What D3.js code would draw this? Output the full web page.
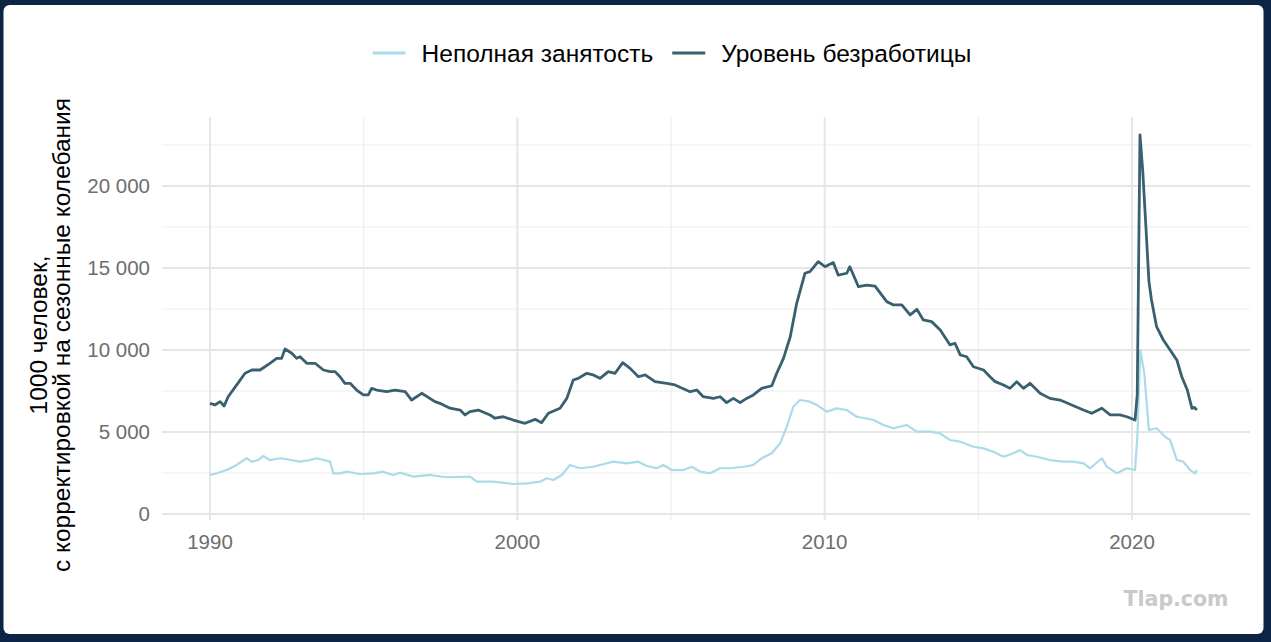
<!DOCTYPE html>
<html>
<head>
<meta charset="utf-8">
<script src="https://cdn.jsdelivr.net/npm/d3@7"></script>
<style>
  html, body { margin: 0; padding: 0; background: #0c2545; }
  svg { display: block; }
</style>
</head>
<body>
<script>
// [decimal year, thousands of persons]
const unemployment = [
  [1990.00, 6750], [1990.16, 6650], [1990.33, 6850], [1990.46, 6590], [1990.59, 7150],
  [1990.87, 7870], [1991.14, 8580], [1991.36, 8780], [1991.63, 8780], [1991.95, 9190],
  [1992.17, 9490], [1992.33, 9490], [1992.44, 10060], [1992.66, 9800], [1992.82, 9490],
  [1992.93, 9590], [1993.15, 9190], [1993.42, 9190], [1993.69, 8780], [1993.91, 8680],
  [1994.07, 8680], [1994.23, 8370], [1994.39, 7970], [1994.56, 7970], [1994.77, 7560],
  [1994.99, 7260], [1995.15, 7260], [1995.26, 7660], [1995.42, 7560], [1995.75, 7460],
  [1996.02, 7560], [1996.35, 7460], [1996.56, 6950], [1996.89, 7360], [1997.32, 6850],
  [1997.48, 6750], [1997.81, 6450], [1998.14, 6340], [1998.30, 6040], [1998.46, 6240],
  [1998.73, 6340], [1999.11, 6040], [1999.27, 5840], [1999.54, 5930], [1999.87, 5730],
  [2000.25, 5530], [2000.58, 5770], [2000.79, 5570], [2001.01, 6140], [2001.39, 6450],
  [2001.61, 7050], [2001.82, 8170], [2001.98, 8270], [2002.26, 8580], [2002.47, 8480],
  [2002.69, 8270], [2002.96, 8680], [2003.18, 8580], [2003.43, 9230], [2003.67, 8880],
  [2003.94, 8370], [2004.16, 8480], [2004.48, 8070], [2004.86, 7970], [2005.13, 7870],
  [2005.62, 7460], [2005.84, 7560], [2006.05, 7150], [2006.38, 7050], [2006.60, 7150],
  [2006.81, 6790], [2007.03, 7050], [2007.25, 6790], [2007.46, 7050], [2007.68, 7260],
  [2007.95, 7660], [2008.28, 7820], [2008.44, 8580], [2008.66, 9490], [2008.88, 10810],
  [2009.09, 12850], [2009.36, 14680], [2009.52, 14780], [2009.79, 15390], [2010.01, 15080],
  [2010.28, 15330], [2010.44, 14570], [2010.72, 14680], [2010.82, 15080], [2011.10, 13860],
  [2011.37, 13960], [2011.64, 13900], [2012.02, 12950], [2012.24, 12750], [2012.51, 12750],
  [2012.78, 12140], [2013.00, 12480], [2013.21, 11830], [2013.48, 11730], [2013.76, 11220],
  [2014.08, 10310], [2014.24, 10410], [2014.41, 9700], [2014.62, 9590], [2014.84, 8980],
  [2015.17, 8780], [2015.38, 8370], [2015.55, 8070], [2015.82, 7870], [2016.03, 7660],
  [2016.25, 8070], [2016.47, 7660], [2016.68, 7970], [2017.01, 7360], [2017.33, 7050],
  [2017.66, 6950], [2018.04, 6650], [2018.42, 6340], [2018.69, 6140], [2019.02, 6450],
  [2019.29, 6040], [2019.61, 6040], [2019.83, 5930], [2020.10, 5730], [2020.17, 7260],
  [2020.26, 23110], [2020.35, 20900], [2020.45, 17600], [2020.55, 14200], [2020.63, 13100],
  [2020.80, 11420], [2021.02, 10610], [2021.24, 10000], [2021.40, 9550], [2021.46, 9390],
  [2021.62, 8370], [2021.80, 7560], [2021.95, 6440], [2022.03, 6500], [2022.11, 6340]
]

const partTime = [
  [1990.00, 2380], [1990.22, 2480], [1990.54, 2680], [1990.87, 2990], [1991.19, 3400],
  [1991.36, 3190], [1991.57, 3290], [1991.73, 3540], [1991.95, 3290], [1992.28, 3400],
  [1992.50, 3340], [1992.93, 3190], [1993.25, 3290], [1993.47, 3400], [1993.91, 3190],
  [1994.01, 2480], [1994.23, 2480], [1994.45, 2580], [1994.88, 2440], [1995.31, 2480],
  [1995.63, 2580], [1995.96, 2380], [1996.18, 2520], [1996.62, 2280], [1997.16, 2380],
  [1997.70, 2240], [1998.46, 2280], [1998.68, 1970], [1999.22, 1970], [1999.87, 1830],
  [2000.31, 1870], [2000.74, 1970], [2000.96, 2180], [2001.17, 2070], [2001.45, 2380],
  [2001.71, 2990], [2002.04, 2790], [2002.47, 2880], [2003.12, 3190], [2003.56, 3090],
  [2003.94, 3190], [2004.21, 2930], [2004.54, 2790], [2004.75, 2990], [2005.02, 2680],
  [2005.40, 2680], [2005.68, 2880], [2005.95, 2580], [2006.27, 2480], [2006.60, 2790],
  [2006.92, 2790], [2007.36, 2880], [2007.68, 2990], [2007.95, 3400], [2008.28, 3700],
  [2008.55, 4310], [2008.77, 5330], [2008.98, 6540], [2009.20, 6950], [2009.52, 6850],
  [2009.74, 6650], [2010.07, 6240], [2010.39, 6440], [2010.72, 6340], [2011.04, 5930],
  [2011.32, 5840], [2011.59, 5730], [2011.91, 5430], [2012.24, 5230], [2012.67, 5430],
  [2013.00, 5020], [2013.43, 5020], [2013.76, 4920], [2014.08, 4510], [2014.41, 4410],
  [2014.84, 4100], [2015.17, 4000], [2015.49, 3800], [2015.82, 3490], [2016.14, 3700],
  [2016.36, 3900], [2016.58, 3600], [2016.90, 3490], [2017.33, 3290], [2017.77, 3190],
  [2018.09, 3190], [2018.42, 3090], [2018.64, 2790], [2019.02, 3400], [2019.18, 2890],
  [2019.51, 2480], [2019.83, 2790], [2020.10, 2680], [2020.18, 4920], [2020.27, 10000],
  [2020.40, 8580], [2020.55, 5120], [2020.80, 5230], [2021.07, 4720], [2021.24, 4510],
  [2021.46, 3290], [2021.67, 3190], [2021.89, 2680], [2022.05, 2480], [2022.11, 2680]
]

const series = [
  {name: 'Неполная занятость', data: partTime, color: '#a9dbe9', width: 2.2},
  {name: 'Уровень безработицы', data: unemployment, color: '#38606e', width: 2.8}
]

const xMajor = [1990, 2000, 2010, 2020]
const xMinor = [1995, 2005, 2015]
const yMajor = [0, 5000, 10000, 15000, 20000]
const yMinor = [2500, 7500, 12500, 17500, 22500]
const yTitle = ['1000 человек,', 'с корректировкой на сезонные колебания']

const width = 1271, height = 642
const font = '"Liberation Sans", Arial, sans-serif'

const svg = d3.select('body').append('svg')
  .attr('width', width)
  .attr('height', height)

// white card on the dark frame
svg.append('rect')
  .attr('x', 3.5).attr('y', 5)
  .attr('width', 1260).attr('height', 629)
  .attr('rx', 6)
  .attr('fill', '#ffffff')

const x = d3.scaleLinear()
  .domain([1990, 2020])
  .range([210, 1132])

const y = d3.scaleLinear()
  .domain([0, 20000])
  .range([514, 186])

const panel = {left: 162, right: 1250, top: 117, bottom: 520}

const fmt = d3.formatLocale({decimal: ',', thousands: '\u00a0', grouping: [3], currency: ['', '']}).format(',d')

const grid = svg.append('g').attr('class', 'grid')

grid.selectAll('.hminor').data(yMinor).join('line')
  .attr('x1', panel.left).attr('x2', panel.right)
  .attr('y1', d => y(d)).attr('y2', d => y(d))
  .attr('stroke', '#eeeeee').attr('stroke-width', 1.2)

grid.selectAll('.vminor').data(xMinor).join('line')
  .attr('x1', d => x(d)).attr('x2', d => x(d))
  .attr('y1', panel.top).attr('y2', panel.bottom)
  .attr('stroke', '#eeeeee').attr('stroke-width', 1.2)

grid.selectAll('.hmajor').data(yMajor).join('line')
  .attr('x1', panel.left).attr('x2', panel.right)
  .attr('y1', d => y(d)).attr('y2', d => y(d))
  .attr('stroke', '#e6e6e6').attr('stroke-width', 2)

grid.selectAll('.vmajor').data(xMajor).join('line')
  .attr('x1', d => x(d)).attr('x2', d => x(d))
  .attr('y1', panel.top).attr('y2', panel.bottom)
  .attr('stroke', '#e6e6e6').attr('stroke-width', 2)

// tick labels
svg.append('g').selectAll('text').data(xMajor).join('text')
  .attr('x', d => x(d))
  .attr('y', 549)
  .attr('text-anchor', 'middle')
  .attr('font-family', font)
  .attr('font-size', 20.5)
  .attr('fill', '#6e6e6e')
  .text(d => d)

svg.append('g').selectAll('text').data(yMajor).join('text')
  .attr('x', 150)
  .attr('y', d => y(d) + 7)
  .attr('text-anchor', 'end')
  .attr('font-family', font)
  .attr('font-size', 20.5)
  .attr('fill', '#6e6e6e')
  .text(d => fmt(d))

// y title, two lines rotated
svg.append('g').selectAll('text').data(yTitle).join('text')
  .attr('transform', (d, i) => `translate(${47 + i * 23},335) rotate(-90)`)
  .attr('text-anchor', 'middle')
  .attr('font-family', font)
  .attr('font-size', 24.5)
  .attr('fill', '#000')
  .text(d => d)

// lines
const line = d3.line()
  .x(d => x(d[0]))
  .y(d => y(d[1]))

svg.append('g').selectAll('path').data(series).join('path')
  .attr('d', d => line(d.data))
  .attr('fill', 'none')
  .attr('stroke', d => d.color)
  .attr('stroke-width', d => d.width)
  .attr('stroke-linejoin', 'round')

// legend
const legend = svg.append('g')
const items = legend.selectAll('g').data(series).join('g')
items.append('line')
  .attr('x1', 0).attr('x2', 33)
  .attr('y1', 0).attr('y2', 0)
  .attr('stroke', d => d.color)
  .attr('stroke-width', 3)
items.append('text')
  .attr('x', 49)
  .attr('y', 8.5)
  .attr('font-family', font)
  .attr('font-size', 24.5)
  .attr('fill', '#000')
  .text(d => d.name)

let cx = 0
items.each(function() {
  const g = d3.select(this)
  g.attr('transform', `translate(${cx},0)`)
  cx += 49 + g.select('text').node().getComputedTextLength() + 19
})
const legendWidth = cx - 19
legend.attr('transform', `translate(${672 - legendWidth / 2},53)`)

// watermark
svg.append('text')
  .attr('x', 1176)
  .attr('y', 606)
  .attr('text-anchor', 'middle')
  .attr('font-family', '"DejaVu Sans", Verdana, sans-serif')
  .attr('font-weight', 'bold')
  .attr('font-size', 20.5)
  .attr('fill', '#c9c9c9')
  .text('Tlap.com')
</script>
</body>
</html>
